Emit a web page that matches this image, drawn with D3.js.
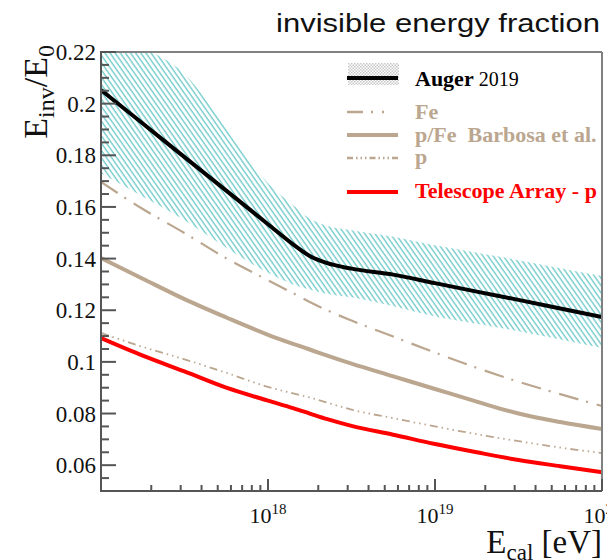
<!DOCTYPE html>
<html>
<head>
<meta charset="utf-8">
<script src="https://cdn.jsdelivr.net/npm/d3@7"></script>
<style>
  html, body { margin: 0; padding: 0; background: #fff; }
  svg { display: block; }
</style>
</head>
<body>
<svg id="chart" width="607" height="560"></svg>
<script>
// log10 of calorimetric energy (eV) at which every curve is sampled
const log10E = [17.0, 17.25, 17.5, 17.75, 18.0, 18.15, 18.25, 18.35, 18.5, 18.75, 19.0, 19.25, 19.5, 19.75, 20.0];

// Auger 2019 parametrisation and its systematic band
const auger      = [0.2053, 0.1923, 0.1793, 0.1663, 0.1533, 0.1455, 0.1410, 0.1383, 0.1361, 0.1338, 0.1305, 0.1272, 0.1240, 0.1207, 0.1174];
const augerUpper = [0.2360, 0.2225, 0.2115, 0.1910, 0.1692, 0.1607, 0.1555, 0.1527, 0.1510, 0.1485, 0.1452, 0.1423, 0.1394, 0.1363, 0.1333];
const augerLower = [0.1730, 0.1640, 0.1548, 0.1442, 0.1345, 0.1300, 0.1280, 0.1264, 0.1250, 0.1215, 0.1176, 0.1148, 0.1119, 0.1087, 0.1054];

// Barbosa et al. simulations
const fe   = [0.1697, 0.1592, 0.1499, 0.1401, 0.1316, 0.1266, 0.1232, 0.1201, 0.1160, 0.1098, 0.1036, 0.0977, 0.0923, 0.0875, 0.0829];
const pfe  = [0.1402, 0.1322, 0.1243, 0.1172, 0.1105, 0.1070, 0.1048, 0.1025, 0.0993, 0.0944, 0.0895, 0.0846, 0.0800, 0.0767, 0.0740];
const prot = [0.1112, 0.1058, 0.1010, 0.0958, 0.0903, 0.0878, 0.0862, 0.0843, 0.0815, 0.0782, 0.0750, 0.0720, 0.0693, 0.0668, 0.0647];

// Telescope Array, proton
const ta   = [0.1092, 0.1024, 0.0963, 0.0900, 0.0850, 0.0821, 0.0800, 0.0779, 0.0752, 0.0718, 0.0682, 0.0650, 0.0620, 0.0596, 0.0573];

// axis ticks
const yMajor = [0.06, 0.08, 0.10, 0.12, 0.14, 0.16, 0.18, 0.20, 0.22];
const yMajorLabels = ["0.06", "0.08", "0.1", "0.12", "0.14", "0.16", "0.18", "0.2", "0.22"];
const yMinor = [0.05, 0.055, 0.065, 0.07, 0.075, 0.085, 0.09, 0.095, 0.105, 0.11, 0.115, 0.125, 0.13, 0.135,
                0.145, 0.15, 0.155, 0.165, 0.17, 0.175, 0.185, 0.19, 0.195, 0.205, 0.21, 0.215];
const xDecades = [17, 18, 19];
const xMajorExp = [18, 19, 20];
const xMinorMult = [2, 3, 4, 5, 6, 7, 8, 9];

const legendLabels = ["Fe", "p/Fe  Barbosa et al.", "p", "Telescope Array - p"];

const TAN = "#bba68f";
const RED = "#ff0000";
const SERIF = "'Liberation Serif', 'Times New Roman', serif";

const svg = d3.select("#chart");
const plotL = 101, plotR = 602, plotT = 52, plotB = 491;

const x = d3.scaleLog().domain([1e17, 1e20]).range([plotL, plotR]);
const y = d3.scaleLinear().domain([0.05, 0.22]).range([plotB, plotT]);

const defs = svg.append("defs");
defs.append("clipPath").attr("id", "plotClip")
  .append("rect").attr("x", plotL).attr("y", plotT).attr("width", plotR - plotL).attr("height", plotB - plotT);

// diagonal cyan hatching for the systematic band
const hatch = defs.append("pattern").attr("id", "hatch")
  .attr("patternUnits", "userSpaceOnUse").attr("width", 4.2).attr("height", 10)
  .attr("patternTransform", "rotate(-35)");
hatch.append("line").attr("x1", 1).attr("y1", -1).attr("x2", 1).attr("y2", 11)
  .attr("stroke", "#74cccc").attr("stroke-width", 1.4);

// light checker used in the legend swatch
const checker = defs.append("pattern").attr("id", "checker")
  .attr("patternUnits", "userSpaceOnUse").attr("width", 3).attr("height", 3);
checker.append("rect").attr("x", 0).attr("y", 0).attr("width", 1.5).attr("height", 1.5).attr("fill", "#c8c8c8");
checker.append("rect").attr("x", 1.5).attr("y", 1.5).attr("width", 1.5).attr("height", 1.5).attr("fill", "#c8c8c8");

const pts = vals => log10E.map((e, i) => [Math.pow(10, e), vals[i]]);
const line = d3.line().x(d => x(d[0])).y(d => y(d[1])).curve(d3.curveMonotoneX);
const band = d3.area()
  .x((d, i) => x(Math.pow(10, log10E[i])))
  .y0((d, i) => y(augerLower[i]))
  .y1((d, i) => y(augerUpper[i]))
  .curve(d3.curveMonotoneX);

const plot = svg.append("g").attr("clip-path", "url(#plotClip)");

plot.append("path").datum(log10E).attr("d", band).attr("fill", "url(#hatch)");

const series = [
  { v: fe,   color: TAN, w: 2.2, dash: "20,8,2,9" },
  { v: pfe,  color: TAN, w: 4,   dash: null },
  { v: prot, color: TAN, w: 1.8, dash: "8,4,1.5,4,1.5,4,1.5,4" },
  { v: ta,   color: RED, w: 4,   dash: null },
  { v: auger, color: "#000", w: 4, dash: null }
];
series.forEach(s => {
  plot.append("path").datum(pts(s.v)).attr("d", line)
    .attr("fill", "none").attr("stroke", s.color).attr("stroke-width", s.w)
    .attr("stroke-dasharray", s.dash);
});

// frame
const axisColor = "#555";
svg.append("line").attr("x1", plotL).attr("x2", plotR).attr("y1", plotT).attr("y2", plotT)
  .attr("stroke", "#808080").attr("stroke-width", 2);
svg.append("line").attr("x1", plotR).attr("x2", plotR).attr("y1", plotT).attr("y2", plotB)
  .attr("stroke", "#808080").attr("stroke-width", 2);
svg.append("line").attr("x1", plotL).attr("x2", plotL).attr("y1", plotT - 1).attr("y2", plotB + 1)
  .attr("stroke", axisColor).attr("stroke-width", 2);
svg.append("line").attr("x1", plotL - 1).attr("x2", plotR).attr("y1", plotB).attr("y2", plotB)
  .attr("stroke", axisColor).attr("stroke-width", 2);

// y ticks (drawn inward)
const gy = svg.append("g");
gy.selectAll(".ymaj").data(yMajor).join("line")
  .attr("class", "ymaj")
  .attr("x1", plotL).attr("x2", plotL + 15).attr("y1", d => y(d)).attr("y2", d => y(d))
  .attr("stroke", axisColor).attr("stroke-width", 2);
gy.selectAll(".ymin").data(yMinor).join("line")
  .attr("class", "ymin")
  .attr("x1", plotL).attr("x2", plotL + 8).attr("y1", d => y(d)).attr("y2", d => y(d))
  .attr("stroke", axisColor).attr("stroke-width", 2);
gy.selectAll(".ylab").data(yMajor).join("text")
  .attr("class", "ylab")
  .attr("x", 96).attr("y", d => y(d)).attr("dy", "0.35em")
  .attr("text-anchor", "end").attr("font-family", SERIF).attr("font-size", 23).attr("fill", "#111")
  .text((d, i) => yMajorLabels[i]);

// x ticks (drawn inward)
const gx = svg.append("g");
const minorE = [];
xDecades.forEach(dec => xMinorMult.forEach(m => minorE.push(m * Math.pow(10, dec))));
gx.selectAll(".xmin").data(minorE).join("line")
  .attr("class", "xmin")
  .attr("x1", d => x(d)).attr("x2", d => x(d)).attr("y1", plotB).attr("y2", plotB - 6)
  .attr("stroke", axisColor).attr("stroke-width", 2);
gx.selectAll(".xmaj").data(xMajorExp).join("line")
  .attr("class", "xmaj")
  .attr("x1", d => x(Math.pow(10, d))).attr("x2", d => x(Math.pow(10, d)))
  .attr("y1", plotB).attr("y2", plotB - 12)
  .attr("stroke", axisColor).attr("stroke-width", 2);
const xl = gx.selectAll(".xlab").data(xMajorExp).join("text")
  .attr("class", "xlab")
  .attr("x", d => x(Math.pow(10, d))).attr("y", 523)
  .attr("text-anchor", "middle").attr("font-family", SERIF).attr("fill", "#111");
xl.append("tspan").attr("font-size", 22).text("10");
xl.append("tspan").attr("font-size", 15).attr("dy", -9).text(d => d);

// axis titles
const yt = svg.append("text")
  .attr("transform", "translate(47,45) rotate(-90)")
  .attr("text-anchor", "end").attr("font-family", SERIF).attr("fill", "#111");
yt.append("tspan").attr("font-size", 34).text("E");
yt.append("tspan").attr("font-size", 24).attr("dy", 7).text("inv");
yt.append("tspan").attr("font-size", 34).attr("dy", -7).text("/E");
yt.append("tspan").attr("font-size", 24).attr("dy", 7).text("0");

const xt = svg.append("text")
  .attr("x", 602).attr("y", 553)
  .attr("text-anchor", "end").attr("font-family", SERIF).attr("fill", "#111");
xt.append("tspan").attr("font-size", 33).text("E");
xt.append("tspan").attr("font-size", 23).attr("dy", 7).text("cal");
xt.append("tspan").attr("font-size", 33).attr("dy", -7).text(" [eV]");

// chart title
svg.append("text")
  .attr("x", 276).attr("y", 32)
  .attr("font-family", "'Liberation Sans', Arial, sans-serif").attr("font-size", 26).attr("fill", "#111")
  .attr("textLength", 324).attr("lengthAdjust", "spacingAndGlyphs")
  .text("invisible energy fraction");

// legend
const lg = svg.append("g");
const lx0 = 347, lx1 = 398, tx = 415;
lg.append("rect").attr("x", 348).attr("y", 63).attr("width", 51).attr("height", 22).attr("fill", "url(#checker)");
lg.append("line").attr("x1", lx0).attr("x2", lx1).attr("y1", 78).attr("y2", 78)
  .attr("stroke", "#000").attr("stroke-width", 4);
const augerText = lg.append("text").attr("x", tx).attr("y", 86)
  .attr("font-family", SERIF).attr("font-size", 22).attr("fill", "#000");
augerText.append("tspan").attr("font-weight", "bold").text("Auger");
augerText.append("tspan").attr("font-size", 20).text(" 2019");

const legendRows = [
  { ly: 112, ty: 119, s: series[0] },
  { ly: 135, ty: 142, s: series[1] },
  { ly: 158, ty: 164, s: series[2] },
  { ly: 192, ty: 198, s: series[3] }
];
legendRows.forEach((r, i) => {
  lg.append("line").attr("x1", lx0).attr("x2", lx1).attr("y1", r.ly).attr("y2", r.ly)
    .attr("stroke", r.s.color).attr("stroke-width", Math.max(r.s.w, 2.5))
    .attr("stroke-dasharray", i === 0 ? "16,8,2,9,2,20" : (i === 2 ? "6,3,1.5,3,1.5,3,1.5,3" : null));
  lg.append("text").attr("x", tx).attr("y", r.ty)
    .attr("font-family", SERIF).attr("font-size", 22).attr("font-weight", "bold")
    .attr("fill", r.s.color).style("white-space", "pre").text(legendLabels[i]);
});
</script>
</body>
</html>
